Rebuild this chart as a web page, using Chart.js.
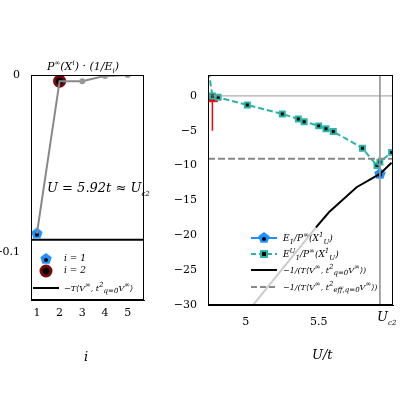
<!DOCTYPE html>
<html><head><meta charset="utf-8">
<script src="https://cdn.jsdelivr.net/npm/chart.js@4/dist/chart.umd.min.js"></script>
<style>
body{margin:0;background:#fff;width:400px;height:400px;position:relative;overflow:hidden;font-family:"DejaVu Serif",serif}
canvas{position:absolute;top:0}
.t{position:absolute;font-size:11px;font-style:italic;white-space:nowrap;color:#000;line-height:1}
.t sub,.t sup{font-size:7px}
</style></head><body>
<div style="position:absolute;left:0;top:0;width:152px;height:400px"><canvas id="c1"></canvas></div>
<div style="position:absolute;left:160px;top:0;width:240px;height:400px"><canvas id="c2"></canvas></div>
<div class="t" style="left:47px;top:60px;font-size:11px">P<sup>∞</sup>(X<sup>i</sup>) · (1/E<sub>i</sub>)</div>
<div class="t" style="left:47px;top:181px;font-size:13px">U = 5.92t ≈ U<sub>c2</sub></div>
<div class="t" style="left:64px;top:254px;font-size:9px">i = 1</div>
<div class="t" style="left:64px;top:266px;font-size:9px">i = 2</div>
<div class="t" style="left:64px;top:282px;font-size:8px">−T⟨V<sup>∞</sup>, t<sup>2</sup><sub>q=0</sub>V<sup>∞</sup>⟩</div>
<div class="t" style="left:84px;top:350px;font-size:13px">i</div>
<div class="t" style="left:283px;top:232px;font-size:9px">E<sub>1</sub>/P<sup>∞</sup>(X<sup>1</sup><sub>U</sub>)</div>
<div class="t" style="left:283px;top:248px;font-size:9px">E<sup>U</sup><sub>1</sub>/P<sup>∞</sup>(X<sup>1</sup><sub>U</sub>)</div>
<div class="t" style="left:283px;top:264px;font-size:8px">−1/(T⟨V<sup>∞</sup>, t<sup>2</sup><sub>q=0</sub>V<sup>∞</sup>⟩)</div>
<div class="t" style="left:283px;top:281px;font-size:8px">−1/(T⟨V<sup>∞</sup>, t<sup>2</sup><sub>eff,q=0</sub>V<sup>∞</sup>⟩)</div>
<div class="t" style="left:312px;top:348px;font-size:13px">U/t</div>
<div class="t" style="left:377px;top:310px;font-size:13px">U<sub>c2</sub></div>
<script>
// left panel
const iVals = [1, 2, 3, 4, 5];
const projVals = [-0.0895, -0.0035, -0.0035, -0.0005, 0];
const tLevel = -0.093;
const leftYTicks = [0, -0.1];

// right panel
const teal = [[4.745, 3.5], [4.77, 0], [4.81, -0.2], [5.01, -1.3], [5.25, -2.6], [5.36, -3.3], [5.40, -3.7], [5.50, -4.3], [5.55, -4.7], [5.60, -5.1], [5.80, -7.5], [5.90, -10], [5.92, -9.5], [6.0, -8.1]];
const blueE1 = [[5.92, -11.2]];
const blackT = [[5.48, -18.9], [5.57, -16.7], [5.76, -13.1], [5.92, -11.2], [6.0, -9.6]];
const grayT = [[5.05, -30], [5.48, -18.9]];
const effLevel = -9;
const uc2 = 5.92;
const arrowX = 4.77;
const rightYTicks = [0, -5, -10, -15, -20, -25, -30];
const rightXTicks = [5, 5.5, 5.92];

function pentagon(size) {
  const c = document.createElement('canvas');
  c.width = c.height = size;
  const g = c.getContext('2d'), r = size / 2 - 1;
  g.beginPath();
  for (let k = 0; k < 5; k++) {
    const a = -Math.PI / 2 + k * 2 * Math.PI / 5;
    g.lineTo(size / 2 + r * Math.cos(a), size / 2 + r * Math.sin(a));
  }
  g.closePath();
  g.fillStyle = '#1e90ff'; g.fill();
  g.beginPath(); g.arc(size / 2, size / 2 + 1, size / 7, 0, 7); g.fillStyle = '#000'; g.fill();
  return c;
}
const pent = pentagon(14);

// full frame around the plot area
const frame = {
  id: 'frame',
  afterDraw(chart) {
    const { ctx: g, chartArea: a } = chart;
    g.save(); g.strokeStyle = '#000'; g.lineWidth = 1;
    g.strokeRect(a.left + 0.5, a.top + 0.5, a.width - 1, a.height - 1);
    g.restore();
  }
};

// legend markers drawn on canvas
const legendMarks = {
  id: 'marks',
  afterDraw(chart, a, o) {
    const g = chart.ctx;
    (o.items || []).forEach(m => {
      g.save();
      if (m.type === 'pent') g.drawImage(pent, m.x - 7, m.y - 7);
      if (m.type === 'red') { g.beginPath(); g.arc(m.x, m.y, 5, 0, 7); g.fillStyle = '#000'; g.fill(); g.lineWidth = 3; g.strokeStyle = '#7a0a0a'; g.stroke(); }
      if (m.type === 'sq') {
        g.strokeStyle = '#2ab3a6'; g.lineWidth = 2; g.setLineDash([5, 3]);
        g.beginPath(); g.moveTo(m.x - 13, m.y); g.lineTo(m.x + 13, m.y); g.stroke(); g.setLineDash([]);
        g.fillStyle = '#000'; g.fillRect(m.x - 3, m.y - 3, 6, 6); g.strokeRect(m.x - 3, m.y - 3, 6, 6);
      }
      if (m.type === 'line' || m.type === 'dash') {
        g.strokeStyle = m.type === 'line' ? '#000' : '#888'; g.lineWidth = 2;
        if (m.type === 'dash') g.setLineDash([6, 3]);
        g.beginPath(); g.moveTo(m.x - 13, m.y); g.lineTo(m.x + 13, m.y); g.stroke();
      }
      if (m.type === 'pentLine') {
        g.strokeStyle = '#1e90ff'; g.lineWidth = 2;
        g.beginPath(); g.moveTo(m.x - 13, m.y); g.lineTo(m.x + 13, m.y); g.stroke();
        g.drawImage(pent, m.x - 7, m.y - 7);
      }
      g.restore();
    });
  }
};

const tickFont = { family: 'DejaVu Serif', size: 11 };

new Chart(document.getElementById('c1'), {
  type: 'line',
  plugins: [frame, legendMarks],
  data: {
    datasets: [
      { data: iVals.map((x, k) => ({ x, y: projVals[k] })), borderColor: '#888', borderWidth: 2,
        pointRadius: [0, 0, 3, 3, 3], pointBackgroundColor: '#999', pointBorderWidth: 0 },
      { data: [{ x: 1, y: projVals[0] }], pointStyle: pent, showLine: false },
      { data: [{ x: 2, y: projVals[1] }], showLine: false, pointRadius: 5, pointBackgroundColor: '#000', pointBorderColor: '#7a0a0a', pointBorderWidth: 3 },
      { data: [{ x: 0.74, y: tLevel }, { x: 5.72, y: tLevel }], borderColor: '#000', borderWidth: 2, pointRadius: 0 }
    ]
  },
  options: {
    responsive: true, maintainAspectRatio: false, animation: false,
    layout: { padding: { top: 75, right: 3, left: 0, bottom: 0 } },
    plugins: { legend: { display: false }, tooltip: { enabled: false },
      marks: { items: [{ type: 'pent', x: 46, y: 259 }, { type: 'red', x: 46, y: 271 }, { type: 'line', x: 46, y: 288 }] } },
    scales: {
      x: { type: 'linear', min: 0.74, max: 5.72, afterFit: s => { s.height = 100; },
        afterBuildTicks: s => { s.ticks = iVals.map(v => ({ value: v })); },
        grid: { display: false, drawTicks: true, tickLength: 4 }, border: { color: '#000' },
        ticks: { color: '#000', font: tickFont, padding: 3 } },
      y: { min: -0.127, max: 0, afterFit: s => { s.width = 31; },
        afterBuildTicks: s => { s.ticks = leftYTicks.map(v => ({ value: v })); },
        grid: { display: false }, border: { color: '#000' },
        ticks: { color: '#000', font: tickFont, callback: v => v === 0 ? '0' : '-0.1' } }
    }
  }
});

new Chart(document.getElementById('c2'), {
  type: 'line',
  plugins: [frame, legendMarks],
  data: {
    datasets: [
      { data: [{ x: 4.74, y: 0 }, { x: 6.01, y: 0 }], borderColor: '#999', borderWidth: 1, pointRadius: 0 },
      { data: [{ x: uc2, y: 3 }, { x: uc2, y: -30 }], borderColor: '#999', borderWidth: 1, pointRadius: 0 },
      { data: [{ x: 4.74, y: effLevel }, { x: 6.01, y: effLevel }], borderColor: '#888', borderWidth: 2, borderDash: [7, 3], pointRadius: 0 },
      { data: grayT.map(([x, y]) => ({ x, y })), borderColor: '#ccc', borderWidth: 2, pointRadius: 0 },
      { data: blackT.map(([x, y]) => ({ x, y })), borderColor: '#000', borderWidth: 2, pointRadius: 0 },
      { data: teal.map(([x, y]) => ({ x, y })), borderColor: '#2ab3a6', borderWidth: 2, borderDash: [6, 3],
        pointStyle: 'rect', pointRadius: teal.map((p, k) => k === 0 ? 0 : 3.5), pointBackgroundColor: '#000', pointBorderColor: '#2ab3a6', pointBorderWidth: 2 },
      { data: blueE1.map(([x, y]) => ({ x, y })), pointStyle: pent, showLine: false },
      { data: [{ x: arrowX, y: -5 }, { x: arrowX, y: -0.8 }], borderColor: 'red', borderWidth: 1.5, pointRadius: 0 },
      { data: [{ x: arrowX, y: -0.4 }], showLine: false, pointStyle: 'triangle', pointRadius: 6, pointBackgroundColor: 'red', pointBorderColor: 'red' }
    ]
  },
  options: {
    responsive: true, maintainAspectRatio: false, animation: false,
    layout: { padding: { top: 75, right: 0, left: 0, bottom: 0 } },
    plugins: { legend: { display: false }, tooltip: { enabled: false },
      marks: { items: [{ type: 'pentLine', x: 104, y: 238 }, { type: 'sq', x: 104, y: 254 }, { type: 'line', x: 104, y: 270 }, { type: 'dash', x: 104, y: 287 }] } },
    scales: {
      x: { type: 'linear', min: 4.74, max: 6.01, afterFit: s => { s.height = 95; },
        afterBuildTicks: s => { s.ticks = rightXTicks.map(v => ({ value: v })); },
        grid: { display: false }, border: { color: '#000' },
        ticks: { color: '#000', font: tickFont, padding: 3, callback: v => v === uc2 ? '' : String(v) } },
      y: { min: -30, max: 3, afterFit: s => { s.width = 48; },
        afterBuildTicks: s => { s.ticks = rightYTicks.map(v => ({ value: v })); },
        grid: { display: false }, border: { color: '#000' },
        ticks: { color: '#000', font: tickFont, callback: v => v === 0 ? '0' : '−' + Math.abs(v) } }
    }
  }
});
</script>
</body></html>
